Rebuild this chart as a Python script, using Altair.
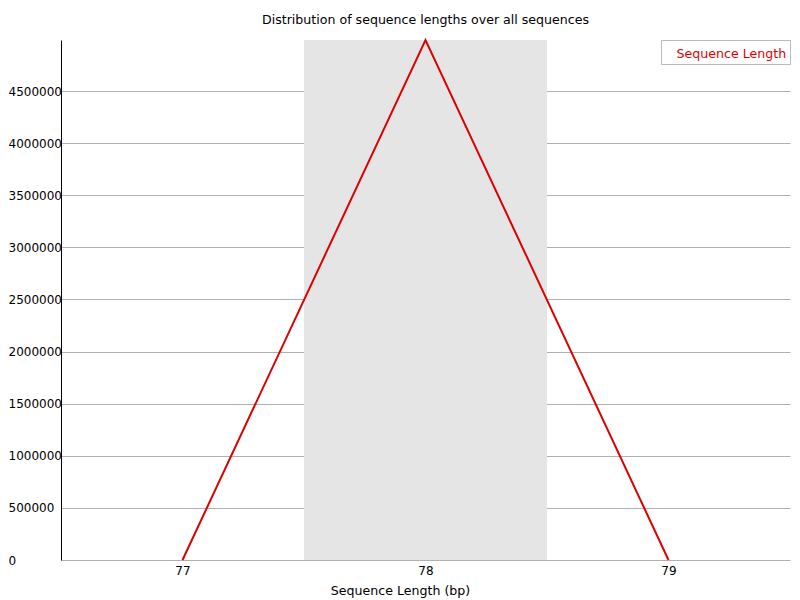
import altair as alt
import pandas as pd

lengths = [77, 78, 79]
counts = [0, 4990000, 0]
series = ["Sequence Length"] * 3
shade_start = [77.5]
shade_end = [78.5]
y_ticks = [0, 500000, 1000000, 1500000, 2000000, 2500000, 3000000, 3500000, 4000000, 4500000]

df = pd.DataFrame({"length": lengths, "count": counts, "series": series})
shade = pd.DataFrame({"x1": shade_start, "x2": shade_end})

FONT = "DejaVu Sans"
TXT = 12.6
x_scale = alt.Scale(domain=[76.5, 79.5], nice=False, zero=False)
y_scale = alt.Scale(domain=[0, max(counts)], nice=False)

bands = alt.Chart(shade).mark_rect(color="#e5e5e5").encode(
    x=alt.X("x1:Q", scale=x_scale),
    x2="x2:Q",
    y=alt.value(0),
    y2=alt.value(520),
)

line = alt.Chart(df).mark_line(strokeWidth=2).encode(
    x=alt.X("length:Q", scale=x_scale,
            axis=alt.Axis(values=lengths, format="d", title="Sequence Length (bp)",
                          grid=False, domain=False, ticks=False, labelPadding=5,
                          labelFont=FONT, labelFontSize=12, labelColor="black",
                          titleFont=FONT, titleFontSize=TXT, titleFontWeight="normal",
                          titleColor="black", titleX=339, titleY=34,
                          titleBaseline="alphabetic", labelFlush=False)),
    y=alt.Y("count:Q", scale=y_scale,
            axis=alt.Axis(values=y_ticks, format="d", title=None, grid=True,
                          gridColor="#b0b0b0", gridOpacity=1, ticks=False, tickSize=0,
                          domain=True, domainColor="black", labelAlign="left",
                          labelPadding=53, labelFont=FONT, labelFontSize=12,
                          labelColor="black", labelFlush=False)),
    color=alt.Color("series:N", scale=alt.Scale(range=["#dd0000"]),
                    legend=alt.Legend(title=" ", titleFontSize=4, titlePadding=0.5,
                                      orient="none", legendX=600, legendY=0,
                                      strokeColor="#bbbbbb", padding=3, symbolSize=0.01,
                                      symbolType="circle",
                                      symbolOpacity=0, symbolStrokeWidth=0,
                                      labelOffset=0, labelColor="#dd0000",
                                      labelFont=FONT, labelFontSize=TXT)),
)

chart = (bands + line).properties(
    width=729, height=520,
    title=alt.Title("Distribution of sequence lengths over all sequences",
                    font=FONT, fontSize=TXT, fontWeight="normal", color="black",
                    anchor="middle", offset=9),
    autosize=alt.AutoSizeParams(type="none"),
    padding={"left": 53, "top": 32, "right": 2, "bottom": 40},
).configure_view(stroke=None)

chart.save("out.html", embed_options={"renderer": "svg", "actions": False})
